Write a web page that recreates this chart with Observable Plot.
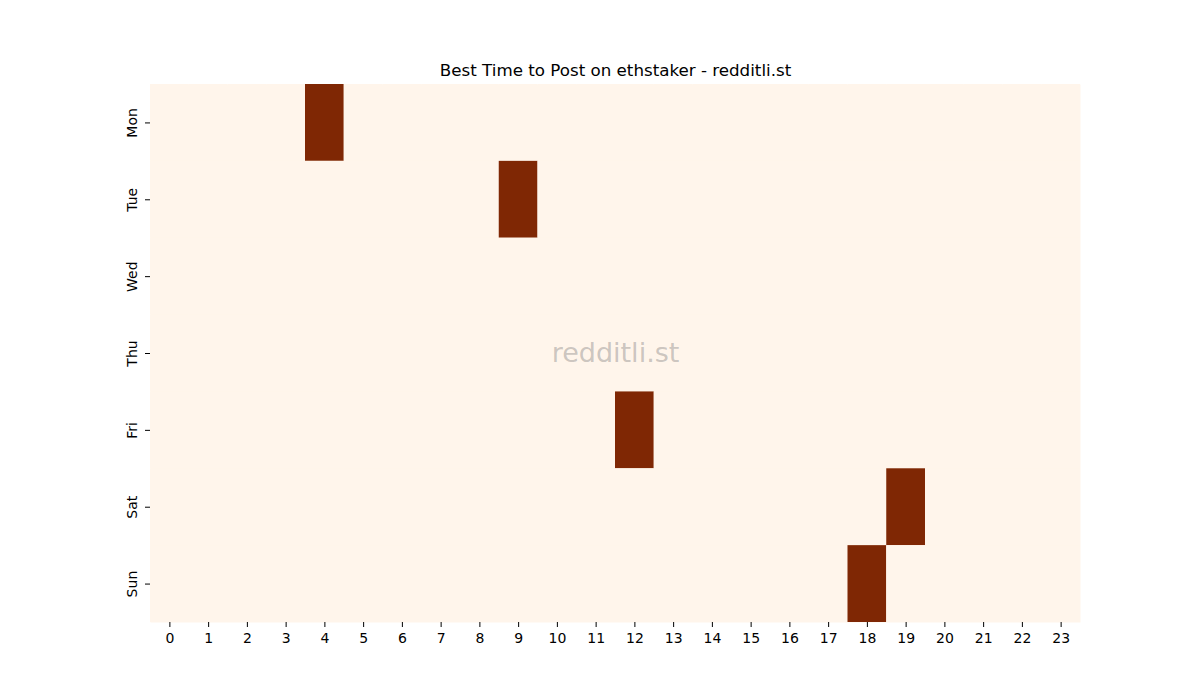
<!DOCTYPE html>
<html>
<head>
<meta charset="utf-8">
<script src="https://cdn.jsdelivr.net/npm/d3@7"></script>
<script src="https://cdn.jsdelivr.net/npm/@observablehq/plot@0.6"></script>
<style>
  html, body { margin: 0; padding: 0; background: #ffffff; overflow: hidden; }
  #chart { width: 1200px; height: 700px; }
  #chart svg { display: block; width: 1200px; height: 700px; max-width: none; }
</style>
</head>
<body>
<div id="chart"></div>
<script>
const title = "Best Time to Post on ethstaker - redditli.st";
const watermark = "redditli.st";
const days = ["Mon", "Tue", "Wed", "Thu", "Fri", "Sat", "Sun"];
const hours = [0,1,2,3,4,5,6,7,8,9,10,11,12,13,14,15,16,17,18,19,20,21,22,23];
const monValues = [0,0,0,0,1,0,0,0,0,0,0,0,0,0,0,0,0,0,0,0,0,0,0,0];
const tueValues = [0,0,0,0,0,0,0,0,0,1,0,0,0,0,0,0,0,0,0,0,0,0,0,0];
const wedValues = [0,0,0,0,0,0,0,0,0,0,0,0,0,0,0,0,0,0,0,0,0,0,0,0];
const thuValues = [0,0,0,0,0,0,0,0,0,0,0,0,0,0,0,0,0,0,0,0,0,0,0,0];
const friValues = [0,0,0,0,0,0,0,0,0,0,0,0,1,0,0,0,0,0,0,0,0,0,0,0];
const satValues = [0,0,0,0,0,0,0,0,0,0,0,0,0,0,0,0,0,0,0,1,0,0,0,0];
const sunValues = [0,0,0,0,0,0,0,0,0,0,0,0,0,0,0,0,0,0,1,0,0,0,0,0];

const rows = [monValues, tueValues, wedValues, thuValues, friValues, satValues, sunValues];
const cells = [];
days.forEach((d, i) => hours.forEach((h, j) => cells.push({day: d, hour: h, value: rows[i][j]})));

const plot = Plot.plot({
  width: 1200,
  height: 700,
  marginTop: 84,
  marginBottom: 78,
  marginLeft: 150,
  marginRight: 120,
  style: { fontFamily: "DejaVu Sans", fontSize: "14px", color: "#000", background: "#fff" },
  x: { domain: hours, padding: 0, round: false, label: null },
  y: { domain: days, padding: 0, round: false, label: null },
  color: { type: "linear", domain: [0, 1], range: ["#fff5eb", "#7f2704"] },
  marks: [
    Plot.frame({ fill: "#fff5eb", stroke: null }),
    Plot.cell(cells, { x: "hour", y: "day", fill: "value", inset: 0 }),
    Plot.axisX({ tickSize: 5, tickPadding: 6, fontSize: 14, label: null }),
    Plot.axisY({ tickSize: 5, tickPadding: 9, fontSize: 14, tickRotate: -90, label: null }),
    Plot.text([watermark], { frameAnchor: "middle", text: d => d, fontSize: 27, fill: "#7a7a7a", fillOpacity: 0.4 }),
    Plot.text([title], { frameAnchor: "top", dy: -9, text: d => d, fontSize: 16.7, fill: "#000", lineAnchor: "bottom" })
  ]
});
document.getElementById("chart").appendChild(plot);
</script>
</body>
</html>
